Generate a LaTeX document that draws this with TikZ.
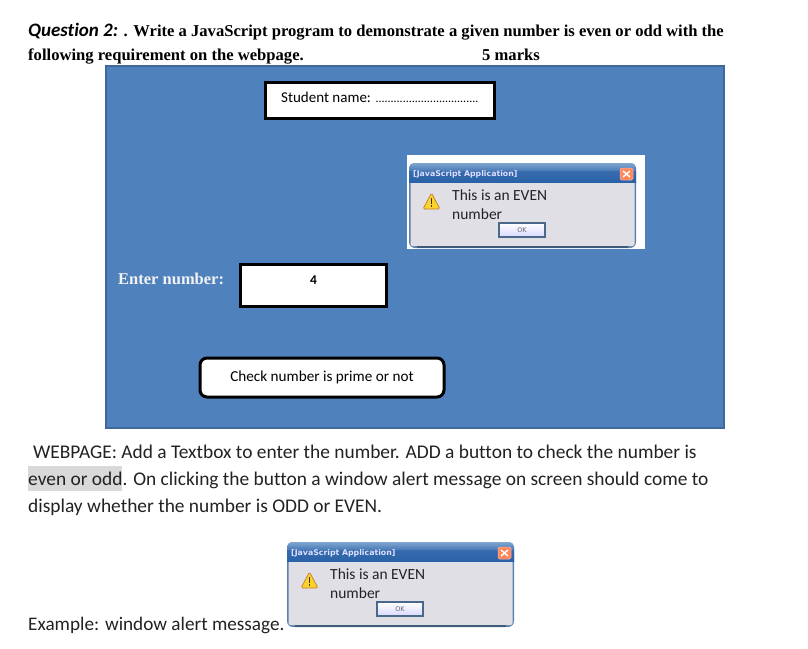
\documentclass[tikz,border=0pt]{standalone}
\usepackage{fontspec}
\setmainfont{Liberation Serif}
\newfontfamily\calfont[Ligatures=NoCommon]{Carlito}
\newfontfamily\dlgfont{DejaVu Sans}
\definecolor{panelblue}{HTML}{4F81BD}
\definecolor{paneledge}{HTML}{41689A}
\definecolor{dlgbody}{HTML}{E1DFE6}
\definecolor{dlgedge}{HTML}{5B82AC}
\definecolor{titletop}{HTML}{7FA6D0}
\definecolor{titlebot}{HTML}{2A62A8}
\definecolor{hl}{HTML}{D9D9D9}
\definecolor{inktext}{HTML}{222222}
\tikzset{
  x=1pt,y=-1pt,
  whitebox/.style={draw=black,line width=3pt,fill=white,inner sep=0pt},
  lbl/.style={anchor=base west,inner sep=0pt,font=\calfont\fontsize{19.4}{20}\selectfont,text=inktext},
  head/.style={anchor=base west,inner sep=0pt,font=\bfseries\fontsize{16.6}{18}\selectfont},
  small/.style={inner sep=0pt,font=\calfont\fontsize{15}{16}\selectfont},
  dlgtext/.style={anchor=base west,inner sep=0pt,font=\calfont\fontsize{15.5}{17}\selectfont,text=inktext},
}
% dialog drawn with its top-left corner at (#1,#2); #3 = name prefix
\newcommand{\alertdlg}[3]{%
  \begin{scope}[shift={(#1,#2)}]
    \fill[dlgedge,rounded corners=6pt] (0,0) rectangle (227,85);
    \fill[dlgbody,rounded corners=2pt] (1.5,18) rectangle (225.5,83);
    \fill[dlgedge!70!black] (8,83.2) rectangle (219,85);
    \shade[top color=titletop,bottom color=titlebot,rounded corners=5pt] (0,0) rectangle (227,12);
    \shade[top color=titlebot!85!titletop,bottom color=titlebot] (0,8) rectangle (227,19);
    \node[anchor=base west,inner sep=0pt,text=white!88!blue,font=\dlgfont\bfseries\fontsize{7.8}{9}\selectfont] (#3title) at (4,13) {[JavaScript Application]};
    \fill[red!45!orange!65!white,draw=white!70!red,rounded corners=1.5pt,line width=.5pt] (211,5) rectangle (224,17);
    \draw[white,line width=1.4pt] (214,8) -- (221,14) (221,8) -- (214,14);
    \fill[yellow!65!orange!85!white,draw=orange!70!black!80!white,line width=.7pt,rounded corners=1.5pt] (22.5,30) -- (31,46) -- (14,46) -- cycle;
    \fill[black!80] (21.7,35) rectangle (23.3,41);
    \fill[black!80] (21.7,42.3) rectangle (23.3,44);
    \node[dlgtext] (#3line1) at (43,37) {This is an EVEN};
    \node[dlgtext] (#3line2) at (43,56) {number};
    \node[draw=dlgedge!80!black,line width=1.3pt,top color=white,bottom color=blue!15!white,minimum width=46pt,minimum height=14pt,inner sep=0pt,text=black!60,font=\dlgfont\fontsize{6.5}{7}\selectfont] (#3ok) at (113,67) {OK};
  \end{scope}}
\begin{document}
\begin{tikzpicture}
\useasboundingbox (0,0) rectangle (808,648);
\fill[white] (0,0) rectangle (808,648);

\node[head] (q1a) at (28,36) {{\calfont\bfseries\itshape\fontsize{19}{18}\selectfont Question 2:} . Write a JavaScript program to demonstrate a given number is even or odd with the};
\node[head] (q1b) at (28,60) {following requirement on the webpage.};
\node[head] (marks) at (482,60) {5 marks};

\node[draw=paneledge,line width=2.6pt,fill=panelblue,minimum width=618pt,minimum height=362pt,inner sep=0pt] (panel) at (415,247) {};

\node[whitebox,minimum width=229pt,minimum height=36pt] (student) at (379.5,100) {};
\node[small,anchor=base west] (studentlbl) at (281,102) {Student name: {\fontsize{12}{14}\selectfont ..................................}};

\node[fill=white,minimum width=238pt,minimum height=94pt,inner sep=0pt] (dlgbg) at (526,202) {};
\alertdlg{409}{163}{a}

\node[anchor=base west,inner sep=0pt,text=white!95!black,font=\bfseries\fontsize{16.5}{18}\selectfont] (enter) at (118,284) {Enter number:};
\node[whitebox,minimum width=146pt,minimum height=42pt] (numbox) at (313.5,285) {};
\node[inner sep=0pt,font=\calfont\bfseries\fontsize{13.5}{15}\selectfont,anchor=base] (four) at (313.5,284) {4};

\node[whitebox,rounded corners=7pt,minimum width=244pt,minimum height=39pt,font=\calfont\fontsize{15.2}{16}\selectfont] (check) at (322,377.5) {Check number is prime or not};

\fill[hl] (28,466) rectangle (122,491);
\node[lbl] (w1) at (33,458) {WEBPAGE: Add a Textbox to enter the number. ADD a button to check the number is};
\node[lbl] (w2) at (28,485) {even or odd. On clicking the button a window alert message on screen should come to};
\node[lbl] (w3) at (28,512) {display whether the number is ODD or EVEN.};

\alertdlg{287}{542}{b}
\node[lbl,font=\calfont\fontsize{19.2}{20}\selectfont] (ex) at (28,630) {Example: window alert message.};
\end{tikzpicture}
\end{document}
